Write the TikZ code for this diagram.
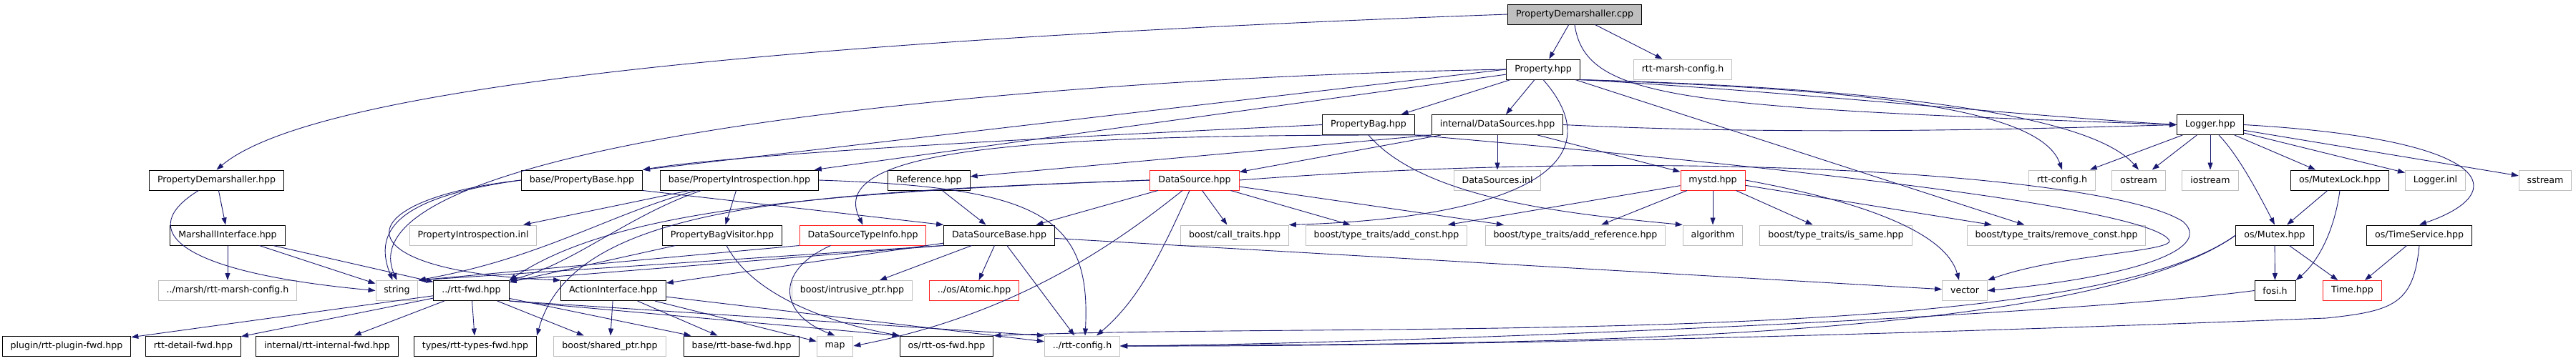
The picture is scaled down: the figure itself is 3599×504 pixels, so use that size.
\documentclass[tikz,border=0pt]{standalone}
\usepackage{fontspec}
\setmainfont{DejaVu Sans}
\usetikzlibrary{arrows.meta}
\definecolor{edgeblue}{HTML}{191970}
\definecolor{extgray}{HTML}{BFBFBF}
\definecolor{truncred}{HTML}{FF2020}
\begin{document}
\begin{tikzpicture}[x=1pt,y=-1pt,
  box/.style={rectangle,minimum height=28pt,inner xsep=11.4pt,inner ysep=0pt,line width=1pt,
    font=\fontsize{12.6pt}{15pt}\selectfont},
  hdr/.style={box,draw=black},
  ext/.style={box,draw=extgray},
  trunc/.style={box,draw=truncred},
  rootfile/.style={box,draw=black,fill=extgray},
  dep/.style={draw=edgeblue,line width=0.9pt,-{Triangle[length=10pt,width=7pt]}}]
\fill[white] (0,0) rectangle (3599,504);
% row 0 and 1
\node[rootfile] (cpp) at (2200,20) {PropertyDemarshaller.cpp};
\node[hdr] (prop) at (2156,97) {Property.hpp};
\node[ext] (marshcfg) at (2351,97) {rtt-marsh-config.h};
% row 2
\node[hdr] (pbag) at (1912,174.5) {PropertyBag.hpp};
\node[hdr] (dsources) at (2092,174.5) {internal/DataSources.hpp};
\node[hdr] (logger) at (3088,174.5) {Logger.hpp};
% row 3
\node[hdr] (pdhpp) at (302.5,252) {PropertyDemarshaller.hpp};
\node[hdr] (pbase) at (813,252) {base/PropertyBase.hpp};
\node[hdr] (pintro) at (1033,252) {base/PropertyIntrospection.hpp};
\node[hdr] (ref) at (1298,252) {Reference.hpp};
\node[trunc] (ds) at (1669,252) {DataSource.hpp};
\node[ext] (dsinl) at (2092,252) {DataSources.inl};
\node[trunc] (mystd) at (2393,252) {mystd.hpp};
\node[ext] (rttcfg) at (2881,252) {rtt-config.h};
\node[ext] (ostream) at (2988,252) {ostream};
\node[ext] (iostream) at (3088,252) {iostream};
\node[hdr] (mutexlock) at (3269,252) {os/MutexLock.hpp};
\node[ext] (loggerinl) at (3402.5,252) {Logger.inl};
\node[ext] (sstream) at (3556,252) {sstream};
% row 4
\node[hdr] (marshif) at (318,329) {MarshallInterface.hpp};
\node[ext] (pintroinl) at (661,329) {PropertyIntrospection.inl};
\node[hdr] (pbv) at (1009,329) {PropertyBagVisitor.hpp};
\node[trunc] (dsti) at (1205.5,329) {DataSourceTypeInfo.hpp};
\node[hdr] (dsbase) at (1396,329) {DataSourceBase.hpp};
\node[ext] (calltraits) at (1725,329) {boost/call\_traits.hpp};
\node[ext] (addconst) at (1937,329) {boost/type\_traits/add\_const.hpp};
\node[ext] (addref) at (2201,329) {boost/type\_traits/add\_reference.hpp};
\node[ext] (algorithm) at (2393,329) {algorithm};
\node[ext] (issame) at (2565,329) {boost/type\_traits/is\_same.hpp};
\node[ext] (removeconst) at (2873,329) {boost/type\_traits/remove\_const.hpp};
\node[hdr] (mutex) at (3178,329) {os/Mutex.hpp};
\node[hdr] (timeservice) at (3380,329) {os/TimeService.hpp};
% row 5
\node[ext] (marshcfgup) at (318,406.5) {../marsh/rtt-marsh-config.h};
\node[ext] (string) at (554.5,406.5) {string};
\node[hdr] (rttfwd) at (658.5,406.5) {../rtt-fwd.hpp};
\node[hdr] (action) at (857,406.5) {ActionInterface.hpp};
\node[ext] (intrusive) at (1190.5,406.5) {boost/intrusive\_ptr.hpp};
\node[trunc] (atomic) at (1361,406.5) {../os/Atomic.hpp};
\node[ext] (vector) at (2745,406.5) {vector};
\node[hdr] (fosi) at (3178.5,406.5) {fosi.h};
\node[trunc] (time) at (3286.5,406.5) {Time.hpp};
% row 6
\node[hdr] (pluginfwd) at (93,484) {plugin/rtt-plugin-fwd.hpp};
\node[hdr] (detailfwd) at (270,484) {rtt-detail-fwd.hpp};
\node[hdr] (internalfwd) at (457,484) {internal/rtt-internal-fwd.hpp};
\node[hdr] (typesfwd) at (664,484) {types/rtt-types-fwd.hpp};
\node[ext] (sharedptr) at (852,484) {boost/shared\_ptr.hpp};
\node[hdr] (basefwd) at (1036,484) {base/rtt-base-fwd.hpp};
\node[ext] (map) at (1166.5,484) {map};
\node[hdr] (osfwd) at (1322.5,484) {os/rtt-os-fwd.hpp};
\node[ext] (rttcfgup) at (1512,484) {../rtt-config.h};
% PropertyDemarshaller.cpp
\draw[dep] (cpp) -- (prop);
\draw[dep] (cpp) -- (marshcfg);
\draw[dep] (cpp.west) .. controls (1000,60) and (430,130) .. (pdhpp.north);
\draw[dep] (cpp.south) .. controls (2215,140) and (2350,150) .. (logger.west);
% Property.hpp
\draw[dep] (prop) -- (pbag);
\draw[dep] (prop) -- (dsources);
\draw[dep] (prop.west) .. controls (1400,110) and (470,200) .. (string.north);
\draw[dep] (prop.west) -- (pbase.north east);
\draw[dep] (prop) -- (pintro);
\draw[dep] (prop.south) .. controls (2260,230) and (2120,305) .. (calltraits.north east);
\draw[dep] (prop.south east) .. controls (2600,125) and (2850,150) .. (rttcfg.north);
\draw[dep] (prop.south east) .. controls (2700,125) and (2930,170) .. (ostream.north);
\draw[dep] (prop.south east) .. controls (2500,128) and (2800,160) .. (logger.west);
\draw[dep] (prop) -- (removeconst);
% PropertyDemarshaller.hpp and MarshallInterface.hpp
\draw[dep] (pdhpp) -- (marshif);
\draw[dep] ([xshift=-25pt]pdhpp.south) .. controls (190,320) and (240,380) .. (string.west);
\draw[dep] (marshif) -- (marshcfgup);
\draw[dep] (marshif) -- (string);
\draw[dep] (marshif) -- (rttfwd);
% PropertyBag.hpp
\draw[dep] (pbag.west) .. controls (1300,200) and (1000,220) .. (pbase.north east);
\draw[dep] (pbag.south) .. controls (1990,280) and (2200,300) .. (algorithm.north west);
\draw[dep] (pbag.south east) .. controls (2400,225) and (2990,285) .. (3030,335)
  .. controls (3045,352) and (2880,355) .. (vector.north east);
% internal/DataSources.hpp
\draw[dep] (dsources) -- (dsinl);
\draw[dep] (dsources) -- (mystd);
\draw[dep] (dsources) -- (ds);
\draw[dep] (dsources.south west) -- (ref);
\draw[dep] (dsources.south west) .. controls (1450,188) and (1150,205) .. (dsti.north);
\draw[dep] (dsources.east) .. controls (2500,190) and (2850,180) .. (logger.west);
% DataSource.hpp
\draw[dep] (ds) -- (dsbase);
\draw[dep] (ds) -- (calltraits);
\draw[dep] (ds) -- (addconst);
\draw[dep] (ds) -- (addref);
\draw[dep] ([xshift=-7pt]ds.south) .. controls (1620,360) and (1590,420) .. ([xshift=20pt]rttcfgup.north);
\draw[dep] ([xshift=-17pt]ds.south) .. controls (1560,340) and (1420,440) .. (map.east);
\draw[dep] (ds.east) .. controls (2350,205) and (2950,245) .. (3050,310)
  .. controls (3090,345) and (3000,385) .. (vector.east);
\draw[dep] (ds.west) .. controls (1100,270) and (850,300) .. (rttfwd.north east);
\draw[dep] (ds.west) .. controls (1100,270) and (800,290) .. (typesfwd.north east);
% DataSourceBase.hpp and Reference.hpp
\draw[dep] (ref) -- (dsbase);
\draw[dep] (dsbase) -- (action);
\draw[dep] (dsbase) -- (intrusive);
\draw[dep] (dsbase) -- (atomic);
\draw[dep] (dsbase) -- (rttcfgup);
\draw[dep] (dsbase) -- (vector);
\draw[dep] (dsbase.south west) -- (rttfwd.north east);
\draw[dep] (dsbase.south west) -- (string.north east);
% base/PropertyBase.hpp
\draw[dep] (pbase.west) .. controls (560,275) and (520,320) .. ([xshift=-6pt]string.north);
\draw[dep] (pbase.west) .. controls (480,280) and (470,380) .. (action.north west);
\draw[dep] (pbase.south east) -- (dsbase.north west);
% base/PropertyIntrospection.hpp
\draw[dep] (pintro) -- (pintroinl);
\draw[dep] (pintro) -- (pbv);
\draw[dep] ([xshift=-60pt]pintro.south) .. controls (850,300) and (760,360) .. (string.north east);
\draw[dep] ([xshift=-53pt]pintro.south) .. controls (880,300) and (800,370) .. (rttfwd.north east);
\draw[dep] (pintro.east) .. controls (1450,262) and (1525,300) .. ([xshift=4pt]rttcfgup.north);
% PropertyBagVisitor.hpp and DataSourceTypeInfo.hpp
\draw[dep] (pbv) -- (rttfwd);
\draw[dep] ([xshift=6pt]pbv.south) .. controls (1050,410) and (1150,450) .. (osfwd.north west);
\draw[dep] (dsti.south west) -- (string.north east);
\draw[dep] ([xshift=-45pt]dsti.south) .. controls (1080,380) and (1090,440) .. (map.north);
% ActionInterface.hpp
\draw[dep] (action) -- (sharedptr);
\draw[dep] (action) -- (basefwd);
\draw[dep] (action) -- (map);
\draw[dep] (action) -- (rttcfgup);
% ../rtt-fwd.hpp
\draw[dep] (rttfwd) -- (pluginfwd);
\draw[dep] (rttfwd) -- (detailfwd);
\draw[dep] (rttfwd) -- (internalfwd);
\draw[dep] (rttfwd) -- (typesfwd);
\draw[dep] (rttfwd) -- (sharedptr);
\draw[dep] (rttfwd) -- (basefwd);
\draw[dep] (rttfwd.south east) -- (osfwd.north west);
\draw[dep] (rttfwd.south east) -- (rttcfgup.north west);
% mystd.hpp
\draw[dep] (mystd) -- (addconst);
\draw[dep] (mystd) -- (addref);
\draw[dep] (mystd) -- (algorithm);
\draw[dep] (mystd) -- (issame);
\draw[dep] (mystd) -- (removeconst);
\draw[dep] (mystd.east) .. controls (2620,285) and (2720,330) .. ([xshift=-8pt]vector.north);
% Logger.hpp
\draw[dep] (logger) -- (rttcfg);
\draw[dep] (logger) -- (ostream);
\draw[dep] (logger) -- (iostream);
\draw[dep] (logger) -- (mutexlock);
\draw[dep] (logger) -- (loggerinl);
\draw[dep] (logger) -- (sstream);
\draw[dep] ([xshift=12pt]logger.south) .. controls (3125,215) and (3150,260) .. (mutex.north);
\draw[dep] (logger.east) .. controls (3490,195) and (3510,270) .. (timeservice.north);
% os
\draw[dep] (mutexlock) -- (mutex);
\draw[dep] (mutexlock.south) .. controls (3262,320) and (3240,365) .. (fosi.north east);
\draw[dep] (mutex) -- (fosi);
\draw[dep] (mutex) -- (time);
\draw[dep] (mutex.west) .. controls (2900,490) and (1900,450) .. (osfwd.north east);
\draw[dep] (mutex.west) .. controls (2900,490) and (2000,480) .. (rttcfgup.east);
\draw[dep] (fosi.west) .. controls (2900,440) and (2000,480) .. (rttcfgup.east);
\draw[dep] (timeservice) -- (time);
\draw[dep] (timeservice.south) .. controls (3372,425) and (3345,435) .. (3250,445)
  .. controls (2600,470) and (2000,485) .. (rttcfgup.east);
\end{tikzpicture}
\end{document}
